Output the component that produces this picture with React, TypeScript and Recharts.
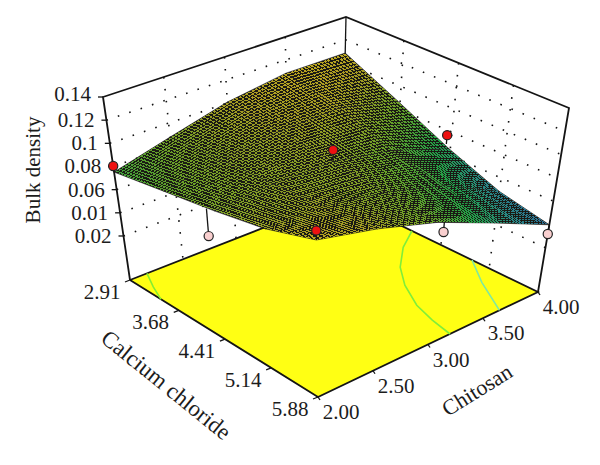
import React from 'react';
import { ScatterChart, Scatter, XAxis, YAxis } from 'recharts';

// ---------- values ----------
const chitosanTicks = [2.0, 2.5, 3.0, 3.5, 4.0];
const chitosanLabels = ['2.00', '2.50', '3.00', '3.50', '4.00'];
const calciumTicks = [2.91, 3.68, 4.41, 5.14, 5.88];
const calciumLabels = ['2.91', '3.68', '4.41', '5.14', '5.88'];
const densityTicks = [0.02, 0.04, 0.06, 0.08, 0.1, 0.12, 0.14];
const densityLabels = ['0.02', '0.01', '0.06', '0.08', '0.1', '0.12', '0.14'];

const gridChitosan = [2.0, 2.5, 3.0, 3.5, 4.0];
const gridCalcium = [2.91, 3.65, 4.395, 5.14, 5.88];
const densityAtChitosan2 = [0.0752, 0.0822, 0.0887, 0.0964, 0.1092];
const densityAtChitosan25 = [0.0879, 0.091, 0.0926, 0.0958, 0.0986];
const densityAtChitosan3 = [0.1008, 0.0973, 0.0926, 0.0879, 0.0838];
const densityAtChitosan35 = [0.1084, 0.0989, 0.0831, 0.0736, 0.0626];
const densityAtChitosan4 = [0.1084, 0.0863, 0.065, 0.0484, 0.0397];
const surface = [densityAtChitosan2, densityAtChitosan25, densityAtChitosan3, densityAtChitosan35, densityAtChitosan4];

const aboveChitosan = [2.0, 3.0, 4.0, 2.0];
const aboveCalcium = [2.91, 4.395, 4.35, 5.88];
const aboveDensity = [0.0804, 0.1026, 0.0757, 0.117];
const aboveSurface = [0.0752, 0.0926, 0.068, 0.1092];

const belowChitosan = [2.0, 3.06, 4.0];
const belowCalcium = [4.28, 5.88, 5.88];
const belowDensity = [0.064, 0.0733, 0.0318];
const belowSurface = [0.087, 0.082, 0.0397];

const contourAChitosan = [2.16, 2.07, 2.0];
const contourACalcium = [2.91, 3.16, 3.4];
const contourBChitosan = [4.0, 3.79, 3.58, 3.43, 3.3, 3.24, 3.2];
const contourBCalcium = [3.97, 4.18, 4.48, 4.8, 5.2, 5.54, 5.88];
const contourCChitosan = [4.0, 3.83, 3.65];
const contourCCalcium = [4.88, 5.31, 5.88];

// ---------- camera ----------
const W = 600;
const H = 465;
const zMin = -0.018;
const zMax = 0.14;
const floorC = { L: [130, 280], B: [318, 397], R: [538, 292], K: [342, 197] };
const topC = { L: [103, 97], B: [316, 202], R: [569, 108], K: [346, 17] };
const bil = (c: any, u: number, v: number, i: number) =>
  (1 - u) * (1 - v) * c.L[i] + (1 - u) * v * c.B[i] + u * v * c.R[i] + u * (1 - v) * c.K[i];
const project = (ch: number, ca: number, d: number) => {
  const u = (ch - 2) / 2;
  const v = (ca - 2.91) / 2.97;
  const w = (d - zMin) / (zMax - zMin);
  return {
    x: (1 - w) * bil(floorC, u, v, 0) + w * bil(topC, u, v, 0),
    y: (1 - w) * bil(floorC, u, v, 1) + w * bil(topC, u, v, 1),
  };
};

const stopDensity = [0.04, 0.055, 0.07, 0.085, 0.1, 0.115];
const stopColor = [
  [45, 110, 150],
  [40, 135, 130],
  [35, 160, 70],
  [105, 160, 40],
  [165, 155, 35],
  [205, 175, 30],
];
const colorOf = (d: number) => {
  const n = stopDensity.length;
  if (d <= stopDensity[0]) return `rgb(${stopColor[0].join(',')})`;
  for (let i = 1; i < n; i++) {
    if (d <= stopDensity[i]) {
      const t = (d - stopDensity[i - 1]) / (stopDensity[i] - stopDensity[i - 1]);
      const c = stopColor[i].map((s, k) => Math.round(stopColor[i - 1][k] + t * (s - stopColor[i - 1][k])));
      return `rgb(${c.join(',')})`;
    }
  }
  return `rgb(${stopColor[n - 1].join(',')})`;
};

// ---------- drawing helpers ----------
const nothing = () => <g />;
const SUB = 18;
const KEEP = 0.68;

const CellShape = (props: any) => {
  const { i, j } = props.payload;
  const c0 = gridChitosan[i];
  const c1 = gridChitosan[i + 1];
  const a0 = gridCalcium[j];
  const a1 = gridCalcium[j + 1];
  const d00 = surface[i][j];
  const d01 = surface[i][j + 1];
  const d10 = surface[i + 1][j];
  const d11 = surface[i + 1][j + 1];
  const at = (s: number, t: number) => {
    const d = (1 - s) * (1 - t) * d00 + (1 - s) * t * d01 + s * (1 - t) * d10 + s * t * d11;
    return { p: project(c0 + s * (c1 - c0), a0 + t * (a1 - a0), d), d };
  };
  const outer = [at(0, 0), at(1, 0), at(1, 1), at(0, 1)];
  const back = 'M' + outer.map((k) => `${k.p.x} ${k.p.y}`).join('L') + 'Z';
  const quads = [];
  const half = KEEP / 2;
  for (let a = 0; a < SUB; a++) {
    for (let b = 0; b < SUB; b++) {
      const q = [
        at((a + 0.5 - half) / SUB, (b + 0.5 - half) / SUB),
        at((a + 0.5 + half) / SUB, (b + 0.5 - half) / SUB),
        at((a + 0.5 + half) / SUB, (b + 0.5 + half) / SUB),
        at((a + 0.5 - half) / SUB, (b + 0.5 + half) / SUB),
      ];
      const path = 'M' + q.map((k) => `${k.p.x.toFixed(2)} ${k.p.y.toFixed(2)}`).join('L') + 'Z';
      quads.push(<path key={a * SUB + b} d={path} fill={colorOf(at((a + 0.5) / SUB, (b + 0.5) / SUB).d)} />);
    }
  }
  return (
    <g>
      <path d={back} fill="#1a1a14" stroke="#1a1a14" strokeWidth={0.6} />
      <g shapeRendering="crispEdges">{quads}</g>
    </g>
  );
};

const FloorShape = () => {
  const pts = [
    project(2, 2.91, zMin),
    project(2, 5.88, zMin),
    project(4, 5.88, zMin),
    project(4, 2.91, zMin),
  ];
  return <polygon points={pts.map((p) => `${p.x},${p.y}`).join(' ')} fill="#ffff14" />;
};

const LabelShape = (props: any) => {
  const { cx, cy, payload } = props;
  const { text, dx, dy, anchor, angle, size } = payload;
  const tx = cx + dx;
  const ty = cy + dy;
  return (
    <text
      x={tx}
      y={ty}
      textAnchor={anchor}
      dominantBaseline="central"
      fontFamily="'Liberation Serif', serif"
      fontSize={size}
      fill="#1c1c1c"
      transform={angle ? `rotate(${angle} ${tx} ${ty})` : undefined}
    >
      {text}
    </text>
  );
};

const dotShape = (fill: string) => (props: any) =>
  <circle cx={props.cx} cy={props.cy} r={4.6} fill={fill} stroke="#222" strokeWidth={1.2} />;

const polyline = (key: string, pts: { x: number; y: number }[], style: any) => (
  <Scatter key={key} data={pts} dataKey="y" line={style} shape={nothing} isAnimationActive={false} />
);

// ---------- series built from the values ----------
const solid = { stroke: '#141414', strokeWidth: 1.8 };
const thin = { stroke: '#141414', strokeWidth: 1.3 };
const dotted = { stroke: '#141414', strokeWidth: 1.6, strokeDasharray: '1.6 10.4' };
const chMin = chitosanTicks[0];
const chMax = chitosanTicks[4];
const caMin = calciumTicks[0];
const caMax = calciumTicks[4];

const cells: any[] = [];
for (let i = 0; i < gridChitosan.length - 1; i++) {
  for (let j = 0; j < gridCalcium.length - 1; j++) {
    cells.push({
      i,
      j,
      ...project((gridChitosan[i] + gridChitosan[i + 1]) / 2, (gridCalcium[j] + gridCalcium[j + 1]) / 2, surface[i][j]),
    });
  }
}

const labelPoints = [
  ...densityTicks.map((d, i) => ({
    ...project(chMin, caMin, d),
    text: densityLabels[i],
    dx: -12,
    dy: i === 6 ? -3 : 0,
    anchor: 'end',
    size: 21,
  })),
  ...calciumTicks.map((c, i) => ({
    ...project(chMin, c, zMin),
    text: calciumLabels[i],
    dx: -28,
    dy: 12,
    anchor: 'middle',
    size: 21,
  })),
  ...chitosanTicks.map((c, i) => ({
    ...project(c, caMax, zMin),
    text: chitosanLabels[i],
    dx: 23,
    dy: 15,
    anchor: 'middle',
    size: 21,
  })),
];
const titlePoints = [
  { x: 33, y: 170, text: 'Bulk density', dx: 0, dy: 0, anchor: 'middle', angle: -90, size: 21 },
  { x: 166, y: 385, text: 'Calcium chloride', dx: 0, dy: 0, anchor: 'middle', angle: 39, size: 23 },
  { x: 477, y: 390, text: 'Chitosan', dx: 0, dy: 0, anchor: 'middle', angle: -32, size: 22 },
];

export default function App() {
  const lines: React.ReactNode[] = [];
  densityTicks.slice(0, 6).forEach((d, i) => {
    lines.push(polyline(`zg${i}`, [project(chMin, caMin, d), project(chMax, caMin, d), project(chMax, caMax, d)], dotted));
  });
  chitosanTicks.slice(1, 4).forEach((c, i) => {
    lines.push(polyline(`ug${i}`, [project(c, caMin, zMax), project(c, caMin, zMin)], dotted));
  });
  calciumTicks.slice(1, 4).forEach((c, i) => {
    lines.push(polyline(`vg${i}`, [project(chMax, c, zMax), project(chMax, c, zMin)], dotted));
  });

  const frame: React.ReactNode[] = [
    polyline('wallTop', [project(chMin, caMin, zMin), project(chMin, caMin, zMax), project(chMax, caMin, zMax), project(chMax, caMax, zMax), project(chMax, caMax, zMin)], solid),
    polyline('backPost', [project(chMax, caMin, zMax), project(chMax, caMin, 0.08)], thin),
  ];
  const floorEdges = polyline(
    'floorEdge',
    [project(chMin, caMin, zMin), project(chMin, caMax, zMin), project(chMax, caMax, zMin), project(chMax, caMin, zMin), project(chMin, caMin, zMin)],
    solid,
  );

  const ticks: React.ReactNode[] = [];
  densityTicks.forEach((d, i) => {
    const p = project(chMin, caMin, d);
    ticks.push(polyline(`zt${i}`, [p, { x: p.x - 5, y: p.y }], thin));
  });
  calciumTicks.forEach((c, i) => {
    const p = project(chMin, c, zMin);
    ticks.push(polyline(`vt${i}`, [p, { x: p.x - 5, y: p.y + 2 }], thin));
  });
  chitosanTicks.forEach((c, i) => {
    const p = project(c, caMax, zMin);
    ticks.push(polyline(`ut${i}`, [p, { x: p.x + 2, y: p.y + 3 }], thin));
  });

  const belowStems = belowDensity.map((d, i) =>
    polyline(`bs${i}`, [project(belowChitosan[i], belowCalcium[i], d), project(belowChitosan[i], belowCalcium[i], belowSurface[i])], thin),
  );
  const aboveStems = aboveDensity.map((d, i) =>
    polyline(`as${i}`, [project(aboveChitosan[i], aboveCalcium[i], d), project(aboveChitosan[i], aboveCalcium[i], aboveSurface[i])], thin),
  );
  const contour = (key: string, ch: number[], ca: number[], color: string) =>
    polyline(key, ch.map((c, i) => project(c, ca[i], zMin)), { stroke: color, strokeWidth: 1.6 });

  return (
    <div style={{ position: 'fixed', left: 0, top: 0, width: W, height: H, background: '#fff' }}>
      <ScatterChart width={W} height={H} margin={{ top: 0, right: 0, bottom: 0, left: 0 }}>
        <XAxis type="number" dataKey="x" domain={[0, W]} hide allowDataOverflow />
        <YAxis type="number" dataKey="y" domain={[0, H]} reversed hide allowDataOverflow />
        {lines}
        <Scatter data={[project(3, 4.395, zMin)]} dataKey="y" shape={FloorShape} isAnimationActive={false} />
        {floorEdges}
        {contour('cA', contourAChitosan, contourACalcium, '#86ee30')}
        {contour('cB', contourBChitosan, contourBCalcium, '#80ee3a')}
        {contour('cC', contourCChitosan, contourCCalcium, '#7fe8a0')}
        {frame}
        {ticks}
        {belowStems}
        <Scatter data={cells} dataKey="y" shape={CellShape} isAnimationActive={false} />
        {aboveStems}
        <Scatter
          data={belowDensity.map((d, i) => project(belowChitosan[i], belowCalcium[i], d))}
          dataKey="y"
          shape={dotShape('#f9cfcf')}
          isAnimationActive={false}
        />
        <Scatter
          data={aboveDensity.map((d, i) => project(aboveChitosan[i], aboveCalcium[i], d))}
          dataKey="y"
          shape={dotShape('#ee1111')}
          isAnimationActive={false}
        />
        <Scatter data={labelPoints} dataKey="y" shape={LabelShape} isAnimationActive={false} />
        <Scatter data={titlePoints} dataKey="y" shape={LabelShape} isAnimationActive={false} />
      </ScatterChart>
    </div>
  );
}
